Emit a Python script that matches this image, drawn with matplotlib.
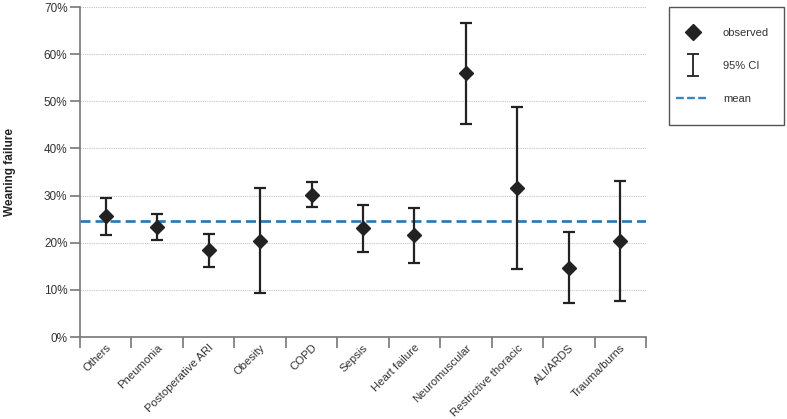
import matplotlib.pyplot as plt
from matplotlib.lines import Line2D
from matplotlib.patches import Rectangle
from matplotlib.legend_handler import HandlerErrorbar
import numpy as np

plt.rcParams['font.family'] = ['Liberation Sans', 'DejaVu Sans']

categories = ['Others', 'Pneumonia', 'Postoperative ARI', 'Obesity', 'COPD', 'Sepsis',
              'Heart failure', 'Neuromuscular', 'Restrictive thoracic', 'ALI/ARDS', 'Trauma/burns']
observed = [25.7, 23.4, 18.5, 20.4, 30.2, 23.1, 21.6, 56.0, 31.6, 14.6, 20.4]
ci_low = [21.6, 20.5, 14.9, 9.3, 27.6, 18.0, 15.7, 45.2, 14.4, 7.2, 7.6]
ci_high = [29.5, 26.1, 21.8, 31.5, 32.9, 28.0, 27.4, 66.6, 48.8, 22.3, 33.1]
mean_value = 24.6
y_ticks = [0, 10, 20, 30, 40, 50, 60, 70]

dark = '#222222'
blue = '#2676b4'
axis_gray = '#777777'

fig = plt.figure(figsize=(7.87, 4.19), dpi=100)
ax = fig.add_axes([80 / 787, 1 - 337 / 419, (646 - 80) / 787, 330 / 419])

x = np.arange(len(categories))
obs = np.array(observed)
yerr = [obs - np.array(ci_low), np.array(ci_high) - obs]

ax.errorbar(x, obs, yerr=yerr, fmt='none', ecolor=dark, elinewidth=1.6,
            capsize=4.2, capthick=1.6, zorder=3)
ax.plot(x, obs, 'D', color=dark, markersize=7, zorder=4)
ax.axhline(mean_value, color=blue, linestyle=(0, (3.8, 1.9)), linewidth=1.9, zorder=2)

ax.set_xlim(-0.5, len(categories) - 0.5)
ax.set_ylim(0, 70)
ax.set_yticks(y_ticks)
ax.set_yticklabels([f'{v}%' for v in y_ticks])
ax.set_xticks(np.arange(len(categories) + 1) - 0.5)
ax.set_xticklabels([])
ax.set_xticks(x, minor=True)
ax.set_xticklabels(categories, minor=True, rotation=45, ha='right',
                   rotation_mode='anchor', fontsize=8.2, color='#333333')
ax.tick_params(axis='x', which='minor', length=0, pad=4)
ax.tick_params(axis='x', which='major', length=8, width=1.2, color=axis_gray)
ax.tick_params(axis='y', length=7, width=1.2, color=axis_gray, labelsize=8.5,
               labelcolor='#333333', pad=2)

for v in y_ticks[1:]:
    ax.axhline(v, color='#c4c4c4', linestyle=(0, (1, 1)), linewidth=0.8, zorder=1)

for side in ['top', 'right']:
    ax.spines[side].set_visible(False)
for side in ['left', 'bottom']:
    ax.spines[side].set_color(axis_gray)
    ax.spines[side].set_linewidth(1.2)

fig.text(10 / 787, 1 - 172 / 419, 'Weaning failure', rotation=90, ha='center',
         va='center', fontsize=8.5, fontweight='bold', color='#222222')

# legend: frame drawn separately so the padding can be uneven like the original
h_obs = Line2D([], [], marker='D', color=dark, linestyle='none', markersize=8.5)
h_ci = ax.errorbar([np.nan], [np.nan], yerr=[[1], [1]], fmt='none', ecolor=dark,
                   elinewidth=1.3, capsize=4.0, capthick=1.3)
h_mean = Line2D([], [], color='#3388c4', linestyle=(0, (3.3, 1.4)), linewidth=1.7)

leg = fig.legend([h_obs, h_ci, h_mean], ['observed', '95% CI', 'mean'],
                 loc='upper left', bbox_to_anchor=(676 / 787, 1 - 28 / 419),
                 frameon=False, fontsize=8, labelspacing=2.08, borderpad=0,
                 handlelength=3.0, handletextpad=1.22, borderaxespad=0,
                 handler_map={type(h_ci): HandlerErrorbar(yerr_size=1.0)})
for t in leg.get_texts():
    t.set_color('#333333')

fig.add_artist(Rectangle((669 / 787, 1 - 125 / 419), 115 / 787, 118 / 419,
                         transform=fig.transFigure, fill=False,
                         edgecolor='#555555', linewidth=1.0))

fig.savefig('out.png', dpi=100)
